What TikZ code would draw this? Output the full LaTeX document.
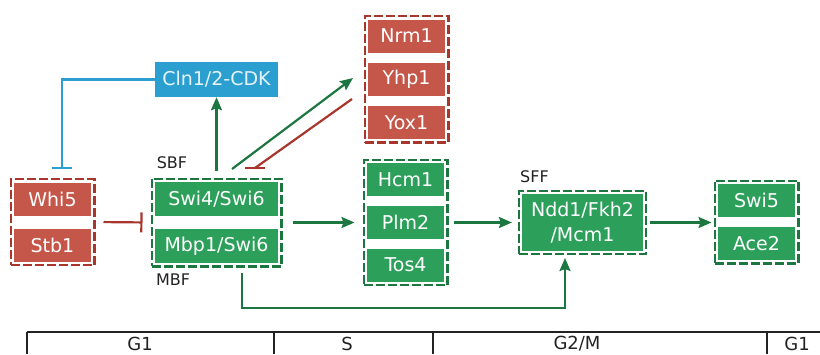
\documentclass[tikz,border=0pt]{standalone}
\usepackage{fontspec}
\setmainfont{DejaVu Sans}
\usetikzlibrary{arrows.meta,positioning,fit,calc}
\definecolor{cR}{HTML}{C4574A}
\definecolor{cRd}{HTML}{A8362C}
\definecolor{cG}{HTML}{2CA05A}
\definecolor{cGd}{HTML}{1B773F}
\definecolor{cB}{HTML}{2A9FD0}
\definecolor{cBt}{HTML}{E6F4FA}
\definecolor{cT}{HTML}{222222}
\tikzset{
  gene/.style={minimum width=77pt,minimum height=33pt,inner sep=0pt,
               text=white,font=\fontsize{19}{22}\selectfont},
  rgene/.style={gene,fill=cR},
  ggene/.style={gene,fill=cG},
  cplx/.style={ggene,minimum width=123pt,minimum height=34pt},
  rgrp/.style={draw=cRd,line width=2.2pt,dash pattern=on 9pt off 3pt,inner sep=3.2pt},
  ggrp/.style={rgrp,draw=cGd},
  lbl/.style={font=\fontsize{16}{18}\selectfont,text=cT},
  phase/.style={font=\fontsize{18}{20}\selectfont,text=cT,inner sep=0pt},
  act/.style={-{Stealth[length=13pt,width=11pt,inset=2pt]},line width=2.2pt,cGd},
  inh/.style={-{Bar[width=20pt]},line width=2.2pt,cRd},
}
\begin{document}
\begin{tikzpicture}[x=1pt,y=-1pt]
  \useasboundingbox (0,0) rectangle (820,354);
  % inhibitors
  \node[rgene] (whi) at (52.5,199) {Whi5};
  \node[rgene] (stb) at (52.5,245) {Stb1};
  \node[rgrp,fit=(whi)(stb)] (gW) {};
  % SBF / MBF
  \node[cplx] (swi4) at (216.5,199) {Swi4/Swi6};
  \node[cplx] (mbp1) at (216.5,246) {Mbp1/Swi6};
  \node[ggrp,fit=(swi4)(mbp1)] (gS) {};
  \node[lbl] (sbf) at (172,163) {SBF};
  \node[lbl] (mbf) at (173,280) {MBF};
  \node[gene,fill=cB,text=cBt,minimum width=123pt,minimum height=35pt] (cln) at (216.5,79.5) {Cln1/2-CDK};
  % repressors
  \node[rgene] (nrm) at (406.5,36) {Nrm1};
  \node[rgene] (yhp) at (406.5,79.5) {Yhp1};
  \node[rgene] (yox) at (406.5,122.5) {Yox1};
  \node[rgrp,fit=(nrm)(yox)] (gN) {};
  % S phase genes
  \node[ggene] (hcm) at (405.5,179.5) {Hcm1};
  \node[ggene] (plm) at (405.5,222.5) {Plm2};
  \node[ggene] (tos) at (405.5,265) {Tos4};
  \node[ggrp,fit=(hcm)(tos)] (gH) {};
  % SFF
  \node[ggene,minimum width=121pt,minimum height=57pt,align=center,
        font=\fontsize{19}{25}\selectfont] (sff) at (582.5,222.5) {Ndd1/Fkh2\\/Mcm1};
  \node[ggrp,inner sep=2.8pt,fit=(sff)] (gF) {};
  \node[lbl] (sfflbl) at (534.5,177) {SFF};
  % M/G1 genes
  \node[ggene] (swi5) at (756.5,200.5) {Swi5};
  \node[ggene] (ace2) at (756.5,243.5) {Ace2};
  \node[ggrp,fit=(swi5)(ace2)] (gA) {};
  % free ends
  \coordinate (whibar) at (62,169);
  \coordinate (sbfout) at (232,169);
  \coordinate (nrmin) at (353,78);
  \coordinate (yoxout) at (352,99);
  \coordinate (sbfbar) at (255,168);
  \coordinate (mbfout) at (242,273);
  \coordinate (mbfturn) at (242,308);
  \coordinate (sffin) at (565,258);
  % connectors
  \draw[inh] (gW.east) -- (gS.west) [shorten <=8pt,shorten >=8pt];
  \draw[inh,cB] (cln.west) -| (whibar);
  \draw[act,shorten <=7pt] (gS.north) -- (cln.south);
  \draw[act] (sbfout) -- (nrmin);
  \draw[line width=2.2pt,cRd] (yoxout) -- (sbfbar);
  \draw[line width=2.2pt,cRd] ([xshift=-10pt]sbfbar) -- ([xshift=10pt]sbfbar);
  \draw[act,shorten <=10pt,shorten >=8pt] (gS.east |- plm) -- (gH.west |- plm);
  \draw[act,shorten <=5pt,shorten >=6pt] (gH.east |- plm) -- (gF.west |- plm);
  \draw[act,shorten <=3pt,shorten >=2pt] (gF.east |- plm) -- (gA.west |- plm);
  \draw[act] (mbfout) -- (mbfturn) -| (sffin);
  % cell cycle phases
  \coordinate (t0) at (27,332);
  \coordinate (t1) at (274,332);
  \coordinate (t2) at (433,332);
  \coordinate (t3) at (767,332);
  \coordinate (tend) at (820,332);
  \draw[cT,line width=2.4pt] (t0) -- (tend);
  \foreach \t in {t0,t1,t2,t3}{\draw[cT,line width=2pt] (\t) -- ++(0,22);}
  \node[phase] (pG1) at (140,343.5) {G1};
  \node[phase] (pS) at (347,343.5) {S};
  \node[phase] (pG2) at (577,343.5) {G2/M};
  \node[phase] (pG1b) at (797,343.5) {G1};
\end{tikzpicture}
\end{document}
